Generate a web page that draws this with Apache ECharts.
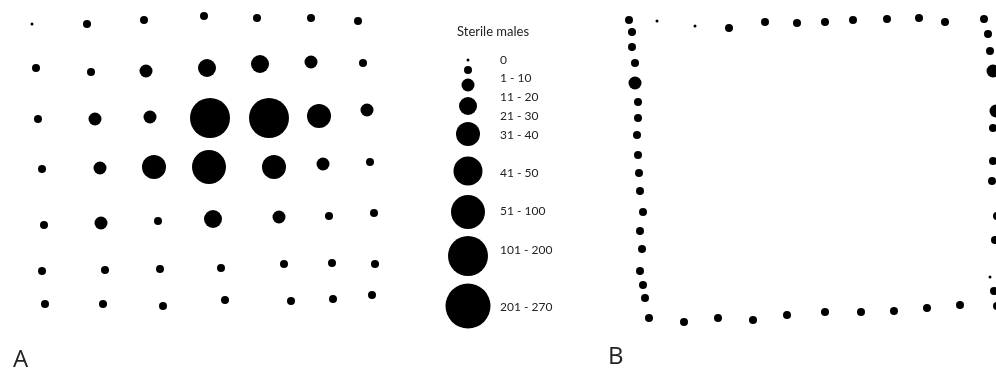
<!DOCTYPE html>
<html>
<head>
<meta charset="utf-8">
<script src="https://cdn.jsdelivr.net/npm/echarts@6/dist/echarts.min.js"></script>
<style>
html,body{margin:0;padding:0;background:#fff}
#main{width:996px;height:372px}
</style>
</head>
<body>
<div id="main"></div>
<script>
// sterile males caught per trap, size classes
var classLabels = ['0','1 - 10','11 - 20','21 - 30','31 - 40','41 - 50','51 - 100','101 - 200','201 - 270'];
var classUpper = [0, 10, 20, 30, 40, 50, 100, 200, 270];
var classSize = [3, 8, 13, 18, 24, 29, 34, 40, 45];

// A: 7x7 trap grid (trap x, trap y, catch)
var gridAX = [
    [32, 87, 144, 204, 257, 311, 358],
    [36, 91, 146, 207, 260, 311, 363],
    [38, 95, 150, 210, 269, 319, 367],
    [42, 100, 154, 209, 274, 323, 370],
    [44, 101, 158, 213, 279, 329, 374],
    [42, 105, 160, 221, 284, 332, 375],
    [45, 103, 163, 225, 291, 333, 372]
];
var gridAY = [
    [24, 24, 20, 16, 18, 18, 21],
    [68, 72, 71, 68, 64, 62, 63],
    [119, 119, 117, 118, 118, 116, 110],
    [169, 168, 167, 167, 167, 164, 162],
    [225, 223, 221, 219, 217, 216, 213],
    [271, 270, 269, 268, 264, 263, 264],
    [304, 304, 306, 300, 301, 299, 295]
];
var gridACatch = [
    [0, 5, 5, 5, 5, 5, 5],
    [5, 5, 15, 25, 25, 15, 5],
    [5, 15, 15, 150, 150, 35, 15],
    [5, 15, 35, 75, 35, 15, 5],
    [5, 15, 5, 25, 15, 5, 5],
    [5, 5, 5, 5, 5, 5, 5],
    [5, 5, 5, 5, 5, 5, 5]
];

// B: perimeter traps
var topX = [629, 657, 695, 729, 765, 797, 825, 853, 887, 919, 945, 984];
var topY = [20, 21, 26, 28, 22, 23, 22, 20, 19, 18, 22, 19];
var topCatch = [5, 0, 0, 5, 5, 5, 5, 5, 5, 5, 5, 5];
var leftX = [632, 632, 635, 635, 638, 638, 637, 638, 639, 640, 643, 640, 642, 640, 643, 645, 649];
var leftY = [32, 47, 63, 83, 102, 118, 135, 155, 173, 191, 212, 231, 249, 271, 285, 298, 318];
var leftCatch = [5, 5, 5, 15, 5, 5, 5, 5, 5, 5, 5, 5, 5, 5, 5, 5, 5];
var bottomX = [684, 718, 753, 787, 825, 861, 894, 927, 960];
var bottomY = [322, 318, 320, 315, 312, 312, 311, 308, 305];
var bottomCatch = [5, 5, 5, 5, 5, 5, 5, 5, 5];
var rightX = [988, 990, 993, 996, 993, 993, 992, 997, 995, 990, 994, 997];
var rightY = [34, 51, 71, 111, 128, 161, 181, 216, 240, 277, 291, 306];
var rightCatch = [5, 5, 15, 15, 5, 5, 5, 5, 5, 0, 5, 5];

function sizeOf(c){
    for (var i = 0; i < classUpper.length; i++) {
        if (c <= classUpper[i]) return classSize[i];
    }
    return classSize[classSize.length - 1];
}

var dataA = [];
for (var r = 0; r < gridAX.length; r++) {
    for (var k = 0; k < gridAX[r].length; k++) {
        dataA.push([gridAX[r][k], gridAY[r][k], gridACatch[r][k]]);
    }
}
var dataB = [];
function addSide(xs, ys, cs){
    for (var i = 0; i < xs.length; i++) dataB.push([xs[i], ys[i], cs[i]]);
}
addSide(topX, topY, topCatch);
addSide(leftX, leftY, leftCatch);
addSide(bottomX, bottomY, bottomCatch);
addSide(rightX, rightY, rightCatch);

// legend layout
var legendX = 468;
var legendY = [60, 70, 85, 106, 134, 171, 212, 256, 306];
var legendLabelDy = [0, 8, 12, 10, 1, 2, -1, -6, 1];
var legendData = classLabels.map(function(l, i){
    return {
        value: [legendX, legendY[i], classUpper[i]],
        symbolSize: classSize[i],
        label: {offset: [32, legendLabelDy[i]]}
    };
});

var chart = echarts.init(document.getElementById('main'));
var option = {
    animation: false,
    textStyle: {fontFamily: 'Lato'},
    title: [
        {text: 'Sterile males', left: 452, top: 20,
         textStyle: {fontSize: 13, fontWeight: 'normal', color: '#222', fontFamily: 'Lato'}},
        {text: 'A', left: 8, top: 343,
         textStyle: {fontSize: 24, fontWeight: 'normal', color: '#222', fontFamily: 'Open Sans'}},
        {text: 'B', left: 603, top: 340,
         textStyle: {fontSize: 24, fontWeight: 'normal', color: '#222', fontFamily: 'Open Sans'}}
    ],
    grid: {left: 0, right: 0, top: 0, bottom: 0},
    xAxis: {type: 'value', min: 0, max: 996, show: false},
    yAxis: {type: 'value', min: 0, max: 372, inverse: true, show: false},
    series: [
        {
            name: 'A', type: 'scatter', clip: false,
            data: dataA,
            symbolSize: function(v){ return sizeOf(v[2]); },
            itemStyle: {color: '#000', opacity: 1}
        },
        {
            name: 'B', type: 'scatter', clip: false,
            data: dataB,
            symbolSize: function(v){ return sizeOf(v[2]); },
            itemStyle: {color: '#000', opacity: 1}
        },
        {
            name: 'legend', type: 'scatter', clip: false,
            data: legendData,
            itemStyle: {color: '#000', opacity: 1},
            label: {
                show: true, position: 'inside', align: 'left', verticalAlign: 'middle',
                color: '#222', fontSize: 12, fontFamily: 'Lato',
                formatter: function(p){ return classLabels[p.dataIndex]; }
            }
        }
    ]
};
chart.setOption(option);
</script>
</body>
</html>
